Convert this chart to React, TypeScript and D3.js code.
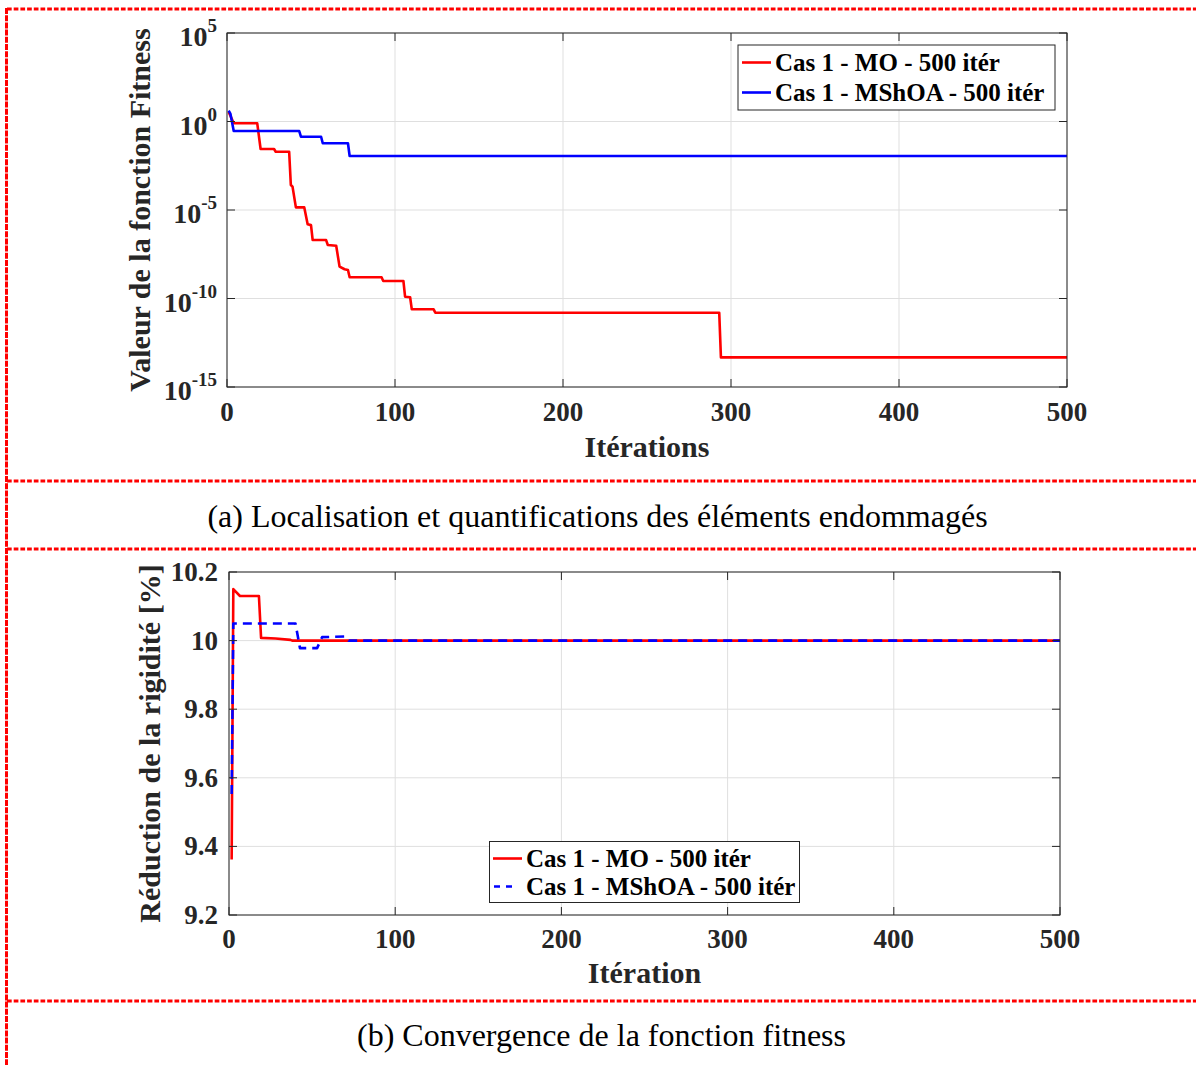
import React from 'react';
import * as d3 from 'd3';

const W = 1196;
const H = 1065;

// ---------- data ----------
const iterTicks = [0, 100, 200, 300, 400, 500];
const fitnessExponents = [5, 0, -5, -10, -15];
const rigidityTicks = [9.2, 9.4, 9.6, 9.8, 10, 10.2];
const rigidityTickLabels = ['9.2', '9.4', '9.6', '9.8', '10', '10.2'];

const moFitIter = [1, 4, 18, 20, 28, 29, 37, 38, 39, 41, 46, 48, 50, 51, 59, 60, 65, 67, 70, 72, 73, 92, 93, 105, 106, 109, 110, 123, 124, 293, 294, 500];
const moFitVal = [3.5, 0.79, 0.79, 0.028, 0.028, 0.0195, 0.0195, 2.6e-4, 2.1e-4, 1.4e-5, 1.4e-5, 1.55e-6, 1.4e-6, 2.0e-7, 2.0e-7, 1.05e-7, 9.5e-8, 6.3e-9, 4.5e-9, 4.1e-9, 1.6e-9, 1.6e-9, 9.8e-10, 9.8e-10, 1.26e-10, 1.17e-10, 2.45e-11, 2.45e-11, 1.58e-11, 1.58e-11, 4.7e-14, 4.7e-14];

const mshoaFitIter = [1, 2, 4, 43, 44, 56, 57, 72, 73, 500];
const mshoaFitVal = [4.1, 2.8, 0.29, 0.29, 0.138, 0.138, 0.059, 0.059, 0.0112, 0.0112];

const moRigIter = [1.6, 2.6, 3.6, 6.6, 18, 19.3, 28, 37, 38, 500];
const moRigVal = [9.362, 10.15, 10.145, 10.13, 10.13, 10.008, 10.006, 10.002, 10.0, 10.0];

const mshoaRigIter = [1.6, 2.6, 40, 42.7, 53, 56, 70, 72, 500];
const mshoaRigVal = [9.553, 10.05, 10.05, 9.978, 9.978, 10.01, 10.012, 10.0, 10.0];

const legendLabels = ['Cas 1 - MO - 500 itér', 'Cas 1 - MShOA - 500 itér'];
const captionA = '(a) Localisation et quantifications des éléments endommagés';
const captionB = '(b) Convergence de la fonction fitness';

// ---------- styles ----------
const SERIF = '"Liberation Serif", "Times New Roman", serif';
const AXIS = '#262626';
const GRID = '#dfdfdf';
const RED = '#ff0000';
const BLUE = '#0000ff';

function zip(a: number[], b: number[]): [number, number][] {
  return a.map((v, i) => [v, b[i]]);
}

export default function App() {
  // top chart
  const tL = 227, tR = 1067, tT = 33, tB = 387;
  const xT = d3.scaleLinear().domain([0, 500]).range([tL, tR]);
  const yT = d3.scaleLog().domain([1e-15, 1e5]).range([tB, tT]);
  const lineT = d3.line<[number, number]>().x(d => xT(d[0])).y(d => yT(d[1]));

  // bottom chart
  const bL = 229, bR = 1060, bT = 572, bB = 915;
  const xB = d3.scaleLinear().domain([0, 500]).range([bL, bR]);
  const yB = d3.scaleLinear().domain([9.2, 10.2]).range([bB, bT]);
  const lineB = d3.line<[number, number]>().x(d => xB(d[0])).y(d => yB(d[1]));

  const tick = 8;

  return (
    <svg width={W} height={H} style={{ position: 'absolute', left: 0, top: 0, display: 'block', background: '#fff' }}
      fontFamily={SERIF}>
      <defs>
        <clipPath id="clipT"><rect x={tL} y={tT - 2} width={tR - tL} height={tB - tT + 4} /></clipPath>
        <clipPath id="clipB"><rect x={bL} y={bT} width={bR - bL} height={bB - bT} /></clipPath>
      </defs>

      {/* frame lines */}
      <g stroke={RED} strokeWidth={2.8} fill="none">
        <line x1={7} y1={9} x2={W} y2={9} strokeDasharray="4.7,2" />
        <line x1={7} y1={481} x2={W} y2={481} strokeDasharray="4.7,2" />
        <line x1={7} y1={549} x2={W} y2={549} strokeDasharray="4.7,2" />
        <line x1={7} y1={1001} x2={W} y2={1001} strokeDasharray="4.7,2" />
        <line x1={6.5} y1={8} x2={6.5} y2={H} strokeWidth={3} strokeDasharray="6,1.2" />
      </g>

      {/* ===== TOP CHART ===== */}
      <rect x={tL} y={tT} width={tR - tL} height={tB - tT} fill="#fff" />
      <g stroke={GRID} strokeWidth={1}>
        {iterTicks.map(t => <line key={'gx' + t} x1={xT(t)} x2={xT(t)} y1={tT} y2={tB} />)}
        {fitnessExponents.map(e => <line key={'gy' + e} x1={tL} x2={tR} y1={yT(Math.pow(10, e))} y2={yT(Math.pow(10, e))} />)}
      </g>
      <g clipPath="url(#clipT)" fill="none" strokeWidth={2.6} strokeLinejoin="round">
        <path d={lineT(zip(moFitIter, moFitVal)) || ''} stroke={RED} />
        <path d={lineT(zip(mshoaFitIter, mshoaFitVal)) || ''} stroke={BLUE} />
      </g>
      <g stroke={AXIS} strokeWidth={1}>
        <rect x={tL} y={tT} width={tR - tL} height={tB - tT} fill="none" />
        {iterTicks.map(t => (
          <g key={'tx' + t}>
            <line x1={xT(t)} x2={xT(t)} y1={tB} y2={tB - tick} />
            <line x1={xT(t)} x2={xT(t)} y1={tT} y2={tT + tick} />
          </g>
        ))}
        {fitnessExponents.map(e => (
          <g key={'ty' + e}>
            <line x1={tL} x2={tL + tick} y1={yT(Math.pow(10, e))} y2={yT(Math.pow(10, e))} />
            <line x1={tR} x2={tR - tick} y1={yT(Math.pow(10, e))} y2={yT(Math.pow(10, e))} />
          </g>
        ))}
      </g>
      <g fontWeight="bold" fill="#262626">
        {iterTicks.map(t => (
          <text key={'lx' + t} x={xT(t)} y={421} fontSize={27} textAnchor="middle">{t}</text>
        ))}
        {fitnessExponents.map(e => (
          <text key={'ly' + e} x={217} y={yT(Math.pow(10, e)) + 13} fontSize={28} textAnchor="end">
            <tspan>10</tspan>
            <tspan fontSize={19} dy={-14}>{String(e)}</tspan>
          </text>
        ))}
        <text x={(tL + tR) / 2} y={457} fontSize={30} textAnchor="middle">Itérations</text>
        <text transform={`translate(150,${(tT + tB) / 2}) rotate(-90)`} fontSize={30} textAnchor="middle">Valeur de la fonction Fitness</text>
      </g>
      {/* top legend */}
      <g>
        <rect x={738} y={45} width={317} height={65} fill="#fff" stroke={AXIS} strokeWidth={1} />
        <line x1={742} x2={771} y1={62.5} y2={62.5} stroke={RED} strokeWidth={2.6} />
        <line x1={742} x2={771} y1={92.5} y2={92.5} stroke={BLUE} strokeWidth={2.6} />
        <text x={775} y={71} fontSize={25} fontWeight="bold" fill="#000">{legendLabels[0]}</text>
        <text x={775} y={101} fontSize={25} fontWeight="bold" fill="#000">{legendLabels[1]}</text>
      </g>

      <text x={597.5} y={527} fontSize={32} textAnchor="middle" fill="#000">{captionA}</text>

      {/* ===== BOTTOM CHART ===== */}
      <rect x={bL} y={bT} width={bR - bL} height={bB - bT} fill="#fff" />
      <g stroke={GRID} strokeWidth={1}>
        {iterTicks.map(t => <line key={'bgx' + t} x1={xB(t)} x2={xB(t)} y1={bT} y2={bB} />)}
        {rigidityTicks.map(v => <line key={'bgy' + v} x1={bL} x2={bR} y1={yB(v)} y2={yB(v)} />)}
      </g>
      <g clipPath="url(#clipB)" fill="none" strokeWidth={2.6} strokeLinejoin="round">
        <path d={lineB(zip(moRigIter, moRigVal)) || ''} stroke={RED} />
        <path d={lineB(zip(mshoaRigIter, mshoaRigVal)) || ''} stroke={BLUE} strokeDasharray="9,6" />
      </g>
      <g stroke={AXIS} strokeWidth={1}>
        <rect x={bL} y={bT} width={bR - bL} height={bB - bT} fill="none" />
        {iterTicks.map(t => (
          <g key={'btx' + t}>
            <line x1={xB(t)} x2={xB(t)} y1={bB} y2={bB - tick} />
            <line x1={xB(t)} x2={xB(t)} y1={bT} y2={bT + tick} />
          </g>
        ))}
        {rigidityTicks.map(v => (
          <g key={'bty' + v}>
            <line x1={bL} x2={bL + tick} y1={yB(v)} y2={yB(v)} />
            <line x1={bR} x2={bR - tick} y1={yB(v)} y2={yB(v)} />
          </g>
        ))}
      </g>
      <g fontWeight="bold" fill="#262626">
        {iterTicks.map(t => (
          <text key={'blx' + t} x={xB(t)} y={948} fontSize={27} textAnchor="middle">{t}</text>
        ))}
        {rigidityTicks.map((v, i) => (
          <text key={'bly' + v} x={218} y={yB(v) + 9} fontSize={27} textAnchor="end">{rigidityTickLabels[i]}</text>
        ))}
        <text x={(bL + bR) / 2} y={983} fontSize={30} textAnchor="middle">Itération</text>
        <text transform={`translate(160,${(bT + bB) / 2}) rotate(-90)`} fontSize={30} textAnchor="middle">Réduction de la rigidité [%]</text>
      </g>
      {/* bottom legend */}
      <g>
        <rect x={489.5} y={841.5} width={310} height={61} fill="#fff" stroke={AXIS} strokeWidth={1} />
        <line x1={493} x2={522} y1={858.5} y2={858.5} stroke={RED} strokeWidth={2.6} />
        <line x1={494} x2={518} y1={886.5} y2={886.5} stroke={BLUE} strokeWidth={2.6} strokeDasharray="6,6" />
        <text x={526} y={867} fontSize={25} fontWeight="bold" fill="#000">{legendLabels[0]}</text>
        <text x={526} y={895} fontSize={25} fontWeight="bold" fill="#000">{legendLabels[1]}</text>
      </g>

      <text x={601.5} y={1046} fontSize={32} textAnchor="middle" fill="#000">{captionB}</text>
    </svg>
  );
}
